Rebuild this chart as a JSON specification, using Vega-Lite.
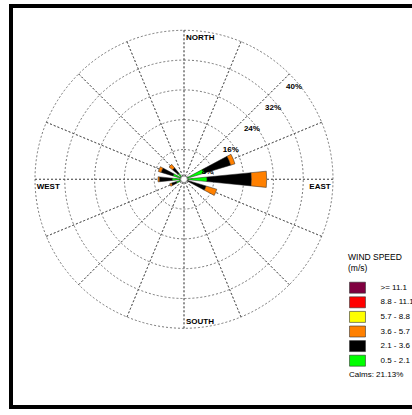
{
  "$schema": "https://vega.github.io/schema/vega-lite/v6.json",
  "autosize": "none",
  "padding": {"left": 11, "top": 6, "right": 0, "bottom": 0},
  "width": 401,
  "height": 403,
  "background": "white",
  "config": {
    "view": {"stroke": null},
    "font": "Liberation Sans"
  },
  "datasets": {
    "rose": [
      {"dir": "E", "cls": "0.5 - 2.1", "pct": 6.2},
      {"dir": "E", "cls": "2.1 - 3.6", "pct": 11.9},
      {"dir": "E", "cls": "3.6 - 5.7", "pct": 4.1},
      {"dir": "ENE", "cls": "0.5 - 2.1", "pct": 5.8},
      {"dir": "ENE", "cls": "2.1 - 3.6", "pct": 7.3},
      {"dir": "ENE", "cls": "3.6 - 5.7", "pct": 1.2},
      {"dir": "ESE", "cls": "0.5 - 2.1", "pct": 1.0},
      {"dir": "ESE", "cls": "2.1 - 3.6", "pct": 5.2},
      {"dir": "ESE", "cls": "3.6 - 5.7", "pct": 3.0},
      {"dir": "W", "cls": "0.5 - 2.1", "pct": 3.2},
      {"dir": "W", "cls": "2.1 - 3.6", "pct": 3.4},
      {"dir": "W", "cls": "3.6 - 5.7", "pct": 0.4},
      {"dir": "WNW", "cls": "0.5 - 2.1", "pct": 3.1},
      {"dir": "WNW", "cls": "2.1 - 3.6", "pct": 3.3},
      {"dir": "WNW", "cls": "3.6 - 5.7", "pct": 0.8},
      {"dir": "NW", "cls": "0.5 - 2.1", "pct": 2.1},
      {"dir": "NW", "cls": "2.1 - 3.6", "pct": 1.9},
      {"dir": "NW", "cls": "3.6 - 5.7", "pct": 1.2},
      {"dir": "WSW", "cls": "0.5 - 2.1", "pct": 2.2},
      {"dir": "WSW", "cls": "2.1 - 3.6", "pct": 1.3},
      {"dir": "WSW", "cls": "3.6 - 5.7", "pct": 0.5}
    ],
    "spokes": [
      {"b": 0}, {"b": 22.5}, {"b": 45}, {"b": 67.5}, {"b": 90}, {"b": 112.5}, {"b": 135}, {"b": 157.5},
      {"b": 180}, {"b": 202.5}, {"b": 225}, {"b": 247.5}, {"b": 270}, {"b": 292.5}, {"b": 315}, {"b": 337.5}
    ],
    "rings": [
      {"ring": 8, "label": "8%"}, {"ring": 16, "label": "16%"}, {"ring": 24, "label": "24%"},
      {"ring": 32, "label": "32%"}, {"ring": 40, "label": "40%"}
    ],
    "calm": [{"calm": "Calms: 21.13%"}]
  },
  "layer": [
    {
      "data": {"values": [{"frame": 1}]},
      "mark": {"type": "rect", "x": 0, "x2": 404, "y": 0, "y2": 401, "fill": "white", "stroke": "black", "strokeWidth": 4},
      "encoding": {}
    },
    {
      "data": {"name": "spokes"},
      "mark": {"type": "arc", "x": 173, "y": 173.3, "fill": null, "stroke": "#555", "strokeWidth": 0.8, "strokeDash": [2, 2]},
      "encoding": {
        "theta": {"field": "b", "type": "quantitative", "stack": null, "scale": {"domain": [0, 360], "range": [0, 6.283185]}},
        "theta2": {"field": "b"},
        "radius": {"datum": 40, "type": "quantitative", "stack": null, "scale": {"type": "linear", "domain": [0, 40], "range": [0, 149]}}
      }
    },
    {
      "data": {"name": "rings"},
      "mark": {"type": "arc", "x": 173, "y": 173.3, "theta": 0, "theta2": 6.2832, "fill": null, "stroke": "#555", "strokeWidth": 0.8, "strokeDash": [2, 2]},
      "encoding": {
        "radius": {"field": "ring", "type": "quantitative", "stack": null, "scale": {"type": "linear", "domain": [0, 40], "range": [0, 149]}}
      }
    },
    {
      "data": {"name": "rose"},
      "mark": {"type": "arc", "x": 173, "y": 173.3, "stroke": "#222", "strokeWidth": 0.5},
      "encoding": {
        "theta": {"field": "dir", "type": "nominal", "scale": {"type": "band", "domain": ["N", "NNE", "NE", "ENE", "E", "ESE", "SE", "SSE", "S", "SSW", "SW", "WSW", "W", "WNW", "NW", "NNW"], "range": [-0.19635, 6.08684], "paddingInner": 0.5, "paddingOuter": 0.25}},
        "radius": {"field": "pct", "type": "quantitative", "stack": true, "scale": {"type": "linear", "domain": [0, 40], "range": [0, 149]}},
        "order": {"field": "cls", "type": "ordinal", "sort": "ascending"},
        "fill": {
          "field": "cls", "type": "nominal",
          "scale": {"domain": [">= 11.1", "8.8 - 11.1", "5.7 - 8.8", "3.6 - 5.7", "2.1 - 3.6", "0.5 - 2.1"], "range": ["#800040", "#ff0000", "#ffff00", "#ff8000", "#000000", "#00ff00"]},
          "legend": {
            "orient": "none", "legendX": 337, "legendY": 246.5,
            "title": ["WIND SPEED", "(m/s)"], "titleFontSize": 8.5, "titleFontWeight": "normal", "titleColor": "black", "titleFont": "Liberation Sans", "titleLineHeight": 11, "titlePadding": 9.7,
            "labelFontSize": 8, "labelColor": "black", "labelFont": "Liberation Sans",
            "symbolType": "M-1.45,-1H1.45V1H-1.45Z", "symbolSize": 121, "symbolStrokeColor": "#333", "symbolStrokeWidth": 0.6, "symbolOffset": 3.5, "symbolOpacity": 1,
            "labelOffset": 17, "rowPadding": 0.6, "padding": 0
          }
        }
      }
    },
    {
      "data": {"name": "calm"},
      "mark": {"type": "arc", "x": 173, "y": 173.3, "theta": 0, "theta2": 6.2832, "radius": 3.3, "stroke": "#888", "strokeWidth": 0.8},
      "encoding": {
        "fill": {
          "field": "calm", "type": "nominal",
          "scale": {"range": ["white"]},
          "legend": {
            "orient": "none", "legendX": 330, "legendY": 364.5, "title": null,
            "labelFontSize": 8, "labelColor": "black", "labelFont": "Liberation Sans",
            "symbolSize": 0, "symbolOpacity": 0, "symbolStrokeWidth": 0, "labelOffset": 0, "padding": 0
          }
        }
      }
    },
    {
      "data": {"name": "rings"},
      "mark": {"type": "text", "x": 173, "y": 173.3, "theta": 0.7854, "align": "left", "baseline": "alphabetic", "dx": -3.3, "dy": 15.3, "fontSize": 8, "fontWeight": "bold", "color": "black"},
      "encoding": {
        "radius": {"field": "ring", "type": "quantitative", "scale": {"type": "linear", "domain": [0, 40], "range": [0, 149]}},
        "text": {"field": "label"}
      }
    },
    {
      "data": {"values": [{"name": "NORTH", "r": 40}]},
      "mark": {"type": "text", "x": 173, "y": 173.3, "theta": 0, "align": "left", "baseline": "alphabetic", "dx": 2, "dy": 9.7, "fontSize": 8, "fontWeight": "bold", "color": "black"},
      "encoding": {
        "radius": {"field": "r", "type": "quantitative", "scale": {"type": "linear", "domain": [0, 40], "range": [0, 149]}},
        "text": {"field": "name"}
      }
    },
    {
      "data": {"values": [{"name": "SOUTH", "r": 40}]},
      "mark": {"type": "text", "x": 173, "y": 173.3, "theta": 3.14159, "align": "left", "baseline": "alphabetic", "dx": 2, "dy": -4.3, "fontSize": 8, "fontWeight": "bold", "color": "black"},
      "encoding": {
        "radius": {"field": "r", "type": "quantitative", "scale": {"type": "linear", "domain": [0, 40], "range": [0, 149]}},
        "text": {"field": "name"}
      }
    },
    {
      "data": {"values": [{"name": "EAST", "r": 40}]},
      "mark": {"type": "text", "x": 173, "y": 173.3, "theta": 1.5708, "align": "right", "baseline": "alphabetic", "dx": -2.3, "dy": 9.7, "fontSize": 8, "fontWeight": "bold", "color": "black"},
      "encoding": {
        "radius": {"field": "r", "type": "quantitative", "scale": {"type": "linear", "domain": [0, 40], "range": [0, 149]}},
        "text": {"field": "name"}
      }
    },
    {
      "data": {"values": [{"name": "WEST", "r": 40}]},
      "mark": {"type": "text", "x": 173, "y": 173.3, "theta": 4.71239, "align": "left", "baseline": "alphabetic", "dx": 1.7, "dy": 9.7, "fontSize": 8, "fontWeight": "bold", "color": "black"},
      "encoding": {
        "radius": {"field": "r", "type": "quantitative", "scale": {"type": "linear", "domain": [0, 40], "range": [0, 149]}},
        "text": {"field": "name"}
      }
    }
  ],
  "resolve": {"scale": {"theta": "independent", "fill": "independent"}}
}
